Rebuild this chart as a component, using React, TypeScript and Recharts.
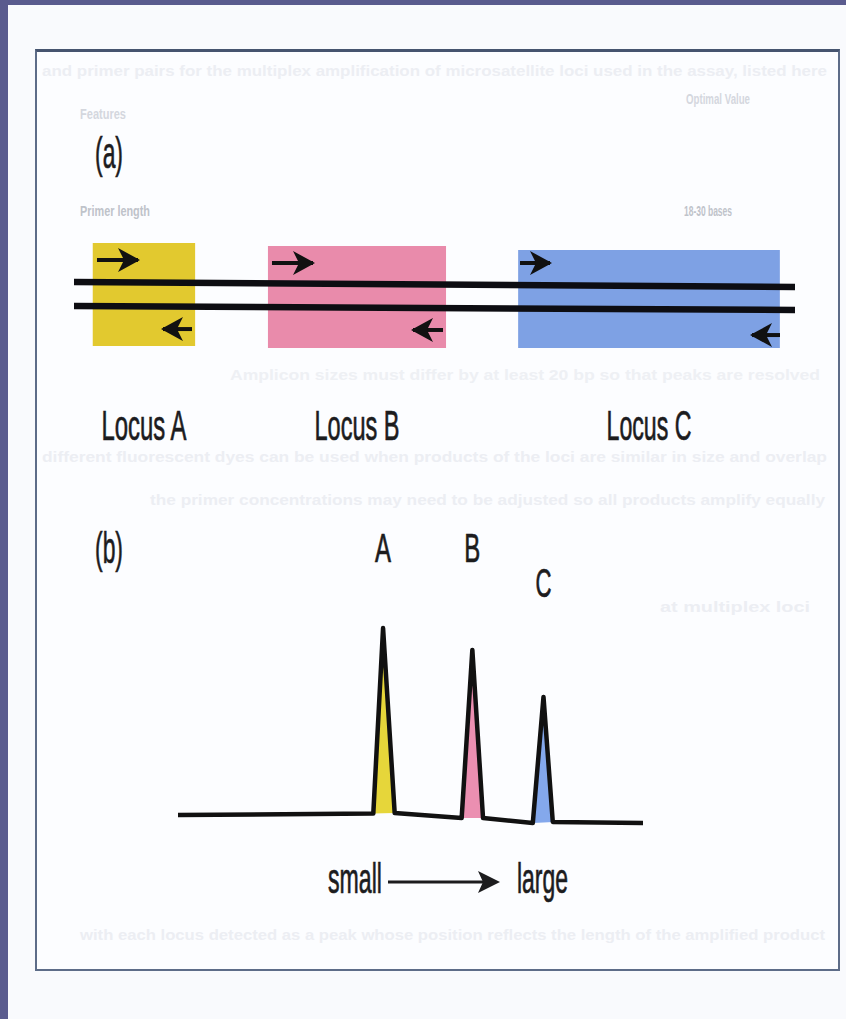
import React from 'react';
import { ComposedChart, Line, Area, Scatter, XAxis, YAxis, ReferenceArea, ReferenceLine } from 'recharts';

// (a) loci on the template, positions in arbitrary genome units 0..100
const loci = ['Locus A', 'Locus B', 'Locus C'];
const locusStart = [2.6, 26.9, 61.6];
const locusEnd = [16.8, 51.6, 97.9];
const locusLow = [1.08, 0.92, 0.92];
const locusHigh = [9.0, 8.77, 8.46];
const locusColors = ['#e2c92f', '#e98bab', '#7ea1e4'];

// forward / reverse primer arrows (from, to, level)
const fwdFrom = [3.19, 27.46, 61.86];
const fwdTo = [8.88, 33.15, 66.02];
const fwdLevel = [7.69, 7.46, 7.46];
const revFrom = [16.37, 51.18, 97.92];
const revTo = [12.34, 47.02, 94.04];
const revLevel = [2.38, 2.31, 1.92];

// the two DNA strands
const strandPos = [0, 100];
const strandTop = [6.0, 5.62];
const strandBottom = [4.15, 3.85];

// (b) fragment sizes and detector signal
const sizes = [0, 42, 44.1, 46.6, 61, 63.3, 65.6, 76.3, 78.6, 80.6, 100];
const signal = [6.3, 6.9, 84.7, 7.1, 5.0, 75.5, 5.0, 2.9, 55.8, 3.4, 2.9];
const floor = [6.3, 6.9, 7.0, 7.1, 5.0, 5.0, 5.0, 2.9, 3.1, 3.4, 2.9];
const peakNames = ['A', 'B', 'C'];
const peakFirst = [1, 4, 7];
const peakLast = [3, 6, 9];
const peakColors = ['#e6d63a', '#eb8fb1', '#84a8ec'];
const peakLabelLevel = [112.4, 112.4, 97.7];

const FONT = '"Liberation Sans", Arial, Helvetica, sans-serif';
const INK = '#1c1c1e';

const strandData = strandPos.map((pos, i) => ({ pos, top: strandTop[i], bottom: strandBottom[i] }));
const locusLabels = loci.map((name, i) => ({ pos: (locusStart[i] + locusEnd[i]) / 2, level: -6.15, name }));

const traceData = sizes.map((size, i) => {
  const row: any = { size, signal: signal[i] };
  peakNames.forEach((p, k) => {
    row['fill' + p] = i >= peakFirst[k] && i <= peakLast[k] ? [floor[i], signal[i]] : null;
  });
  return row;
});
const peakLabels = peakNames.map((name, k) => ({ size: sizes[peakFirst[k] + 1], level: peakLabelLevel[k], name }));

const CondText = ({ x, y, text, size, width, anchor = 'middle' }: any) => (
  <text
    x={x}
    y={y}
    fontSize={size}
    fontFamily={FONT}
    fill={INK}
    stroke={INK}
    strokeWidth={0.7}
    textAnchor={anchor}
    textLength={width}
    lengthAdjust="spacingAndGlyphs"
  >
    {text}
  </text>
);

// faint show-through print from the scanned page
const ghost = [
  { x: 42, y: 76, w: 785, t: 'and primer pairs for the multiplex amplification of microsatellite loci used in the assay, listed here', c: '#eceef3' },
  { x: 80, y: 119, w: 46, t: 'Features', c: '#d4d7de' },
  { x: 686, y: 104, w: 64, t: 'Optimal Value', c: '#d4d7de' },
  { x: 80, y: 216, w: 70, t: 'Primer length', c: '#bfc3ca' },
  { x: 684, y: 216, w: 48, t: '18-30 bases', c: '#bfc3ca' },
  { x: 230, y: 380, w: 590, t: 'Amplicon sizes must differ by at least 20 bp so that peaks are resolved', c: '#eef0f4' },
  { x: 42, y: 462, w: 785, t: 'different fluorescent dyes can be used when products of the loci are similar in size and overlap', c: '#eceef3' },
  { x: 150, y: 505, w: 675, t: 'the primer concentrations may need to be adjusted so all products amplify equally', c: '#eceef3' },
  { x: 660, y: 612, w: 150, t: 'at multiplex loci', c: '#eceef3' },
  { x: 80, y: 940, w: 745, t: 'with each locus detected as a peak whose position reflects the length of the amplified product', c: '#eceef3' },
];

const App = () => {
  return (
    <div style={{ position: 'absolute', left: 0, top: 0, width: 846, height: 1019, background: '#5a5b8e', overflow: 'hidden' }}>
      <div style={{ position: 'absolute', left: 8, top: 5, right: 0, bottom: 0, background: '#f9fafd' }} />
      <div
        style={{
          position: 'absolute',
          left: 35,
          top: 49,
          width: 801,
          height: 917,
          border: '2px solid #5d6c88',
          borderTop: '3px solid #46546f',
          background: '#fcfdff',
        }}
      />
      <svg width={846} height={1019} style={{ position: 'absolute', left: 0, top: 0 }}>
        {ghost.map((g, i) => (
          <text
            key={i}
            x={g.x}
            y={g.y}
            fontSize={15}
            fontWeight="bold"
            fontFamily={FONT}
            fill={g.c}
            textLength={g.w}
            lengthAdjust="spacingAndGlyphs"
          >
            {g.t}
          </text>
        ))}
        <CondText x={95} y={168} text="(a)" size={44} width={28} anchor="start" />
        <CondText x={95} y={563} text="(b)" size={44} width={28} anchor="start" />
        <CondText x={328} y={893} text="small" size={42} width={54} anchor="start" />
        <CondText x={517} y={893} text="large" size={42} width={51} anchor="start" />
        <line x1={388} y1={882} x2={486} y2={882} stroke={INK} strokeWidth={3} />
        <polygon points="478,871 500,882 478,893 483,882" fill={INK} />
      </svg>

      <div style={{ position: 'absolute', left: 0, top: 0 }}>
        <ComposedChart width={846} height={480} data={strandData} margin={{ top: 230, right: 51, bottom: 16, left: 74 }}>
          <defs>
            <marker id="head" markerUnits="userSpaceOnUse" markerWidth={22} markerHeight={24} viewBox="0 0 22 24" refX={20} refY={12} orient="auto">
              <path d="M0,0 L22,12 L0,24 L6,12 Z" fill="#111" />
            </marker>
          </defs>
          <XAxis dataKey="pos" type="number" domain={[0, 100]} hide allowDataOverflow />
          <YAxis type="number" domain={[-8, 10]} hide allowDataOverflow />
          {loci.map((name, i) => (
            <ReferenceArea
              key={name}
              x1={locusStart[i]}
              x2={locusEnd[i]}
              y1={locusLow[i]}
              y2={locusHigh[i]}
              fill={locusColors[i]}
              fillOpacity={1}
              stroke="none"
              ifOverflow="visible"
            />
          ))}
          <Line dataKey="top" type="linear" stroke="#0d0d12" strokeWidth={6.5} dot={false} isAnimationActive={false} />
          <Line dataKey="bottom" type="linear" stroke="#0d0d12" strokeWidth={6.5} dot={false} isAnimationActive={false} />
          {loci.map((name, i) => (
            <ReferenceLine
              key={'f' + name}
              segment={[{ x: fwdFrom[i], y: fwdLevel[i] }, { x: fwdTo[i], y: fwdLevel[i] }]}
              stroke="#111"
              strokeWidth={4}
              markerEnd="url(#head)"
              ifOverflow="visible"
            />
          ))}
          {loci.map((name, i) => (
            <ReferenceLine
              key={'r' + name}
              segment={[{ x: revFrom[i], y: revLevel[i] }, { x: revTo[i], y: revLevel[i] }]}
              stroke="#111"
              strokeWidth={4}
              markerEnd="url(#head)"
              ifOverflow="visible"
            />
          ))}
          <Scatter
            data={locusLabels}
            dataKey="level"
            isAnimationActive={false}
            shape={(p: any) => <CondText x={p.cx} y={p.cy} text={p.payload.name} size={42} width={85} />}
          />
        </ComposedChart>
      </div>

      <div style={{ position: 'absolute', left: 0, top: 480 }}>
        <ComposedChart width={846} height={440} data={traceData} margin={{ top: 40, right: 203, bottom: 90, left: 178 }}>
          <XAxis dataKey="size" type="number" domain={[0, 100]} hide allowDataOverflow />
          <YAxis type="number" domain={[0, 130]} hide allowDataOverflow />
          {peakNames.map((p, k) => (
            <Area
              key={p}
              dataKey={'fill' + p}
              type="linear"
              stroke="none"
              fill={peakColors[k]}
              fillOpacity={1}
              isAnimationActive={false}
              connectNulls={false}
            />
          ))}
          <Line dataKey="signal" type="linear" stroke="#111" strokeWidth={4.5} strokeLinejoin="round" dot={false} isAnimationActive={false} />
          <Scatter
            data={peakLabels}
            dataKey="level"
            isAnimationActive={false}
            shape={(p: any) => <CondText x={p.cx} y={p.cy} text={p.payload.name} size={40} width={16} />}
          />
        </ComposedChart>
      </div>
    </div>
  );
};

export default App;
